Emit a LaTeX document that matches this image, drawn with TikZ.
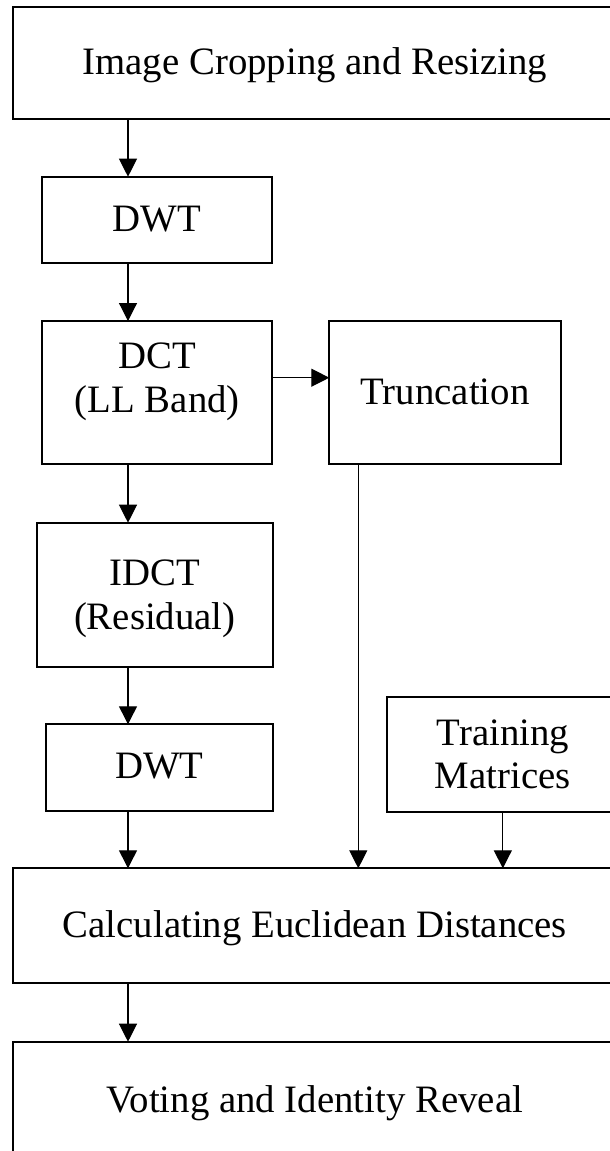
\documentclass[tikz,border=0pt]{standalone}
\usepackage{fontspec}
\setmainfont{Liberation Serif}
\usetikzlibrary{arrows.meta}
\newcommand\flowfont{\fontsize{38.8pt}{43.5pt}\selectfont}
\begin{document}
\begin{tikzpicture}[x=1pt,y=-1pt,
  box/.style={draw, line width=1.9pt, inner sep=0pt, outer sep=0pt,
    align=center, font=\flowfont},
  oneline/.style={text height=25.7pt, text depth=3pt},
  boxtext/.style={align=center, font=\flowfont, inner sep=0pt},
  arr/.style={line width=1.2pt, -{Triangle[length=18pt,width=18pt]}}]
  \useasboundingbox (0,0) rectangle (610,1151);
  \clip (0,0) rectangle (610,1151);

  % processing blocks
  \node[box, oneline, minimum width=604.3pt, minimum height=112.3pt] (crop) at (314.85,62.85) {Image Cropping and Resizing};
  \node[box, oneline, minimum width=230.6pt, minimum height=86.6pt] (dwta) at (157,220) {DWT};
  \node[box, minimum width=230pt, minimum height=143pt,
    label={[boxtext, yshift=10.6pt]center:{DCT\\(LL Band)}}] (dct) at (157.3,392.5) {};
  \node[box, oneline, minimum width=231.4pt, minimum height=143.3pt] (trunc) at (445,392.65) {Truncation};
  \node[box, minimum width=236.3pt, minimum height=144pt,
    label={[boxtext, yshift=-4pt]center:{IDCT\\(Residual)}}] (idct) at (154.85,594.7) {};
  \node[box, oneline, minimum width=227pt, minimum height=86.4pt] (dwtb) at (159.5,767.5) {DWT};
  \node[box, minimum width=232.3pt, minimum height=115.6pt] (train) at (502.85,754.5) {Training\\Matrices};
  \node[box, oneline, minimum width=604.3pt, minimum height=115pt] (dist) at (314.85,925.8) {Calculating Euclidean Distances};
  \node[box, oneline, minimum width=604.3pt, minimum height=118.3pt] (vote) at (314.85,1100.85) {Voting and Identity Reveal};

  % connector columns
  \coordinate (colA) at (128,0);
  \coordinate (colB) at (358.3,0);

  % connectors
  \draw[arr] (crop.south -| colA) -- (dwta.north -| colA);
  \draw[arr] (dwta.south -| colA) -- (dct.north -| colA);
  \draw[arr] ([yshift=14.8pt]dct.east) -- ([yshift=14.8pt]dct.east -| trunc.west);
  \draw[arr] (dct.south -| colA) -- (idct.north -| colA);
  \draw[arr] (idct.south -| colA) -- (dwtb.north -| colA);
  \draw[arr] (dwtb.south -| colA) -- (dist.north -| colA);
  \draw[arr] (trunc.south -| colB) -- (dist.north -| colB);
  \draw[arr] (train.south) -- (dist.north -| train.south);
  \draw[arr] (dist.south -| colA) -- (vote.north -| colA);
\end{tikzpicture}
\end{document}
